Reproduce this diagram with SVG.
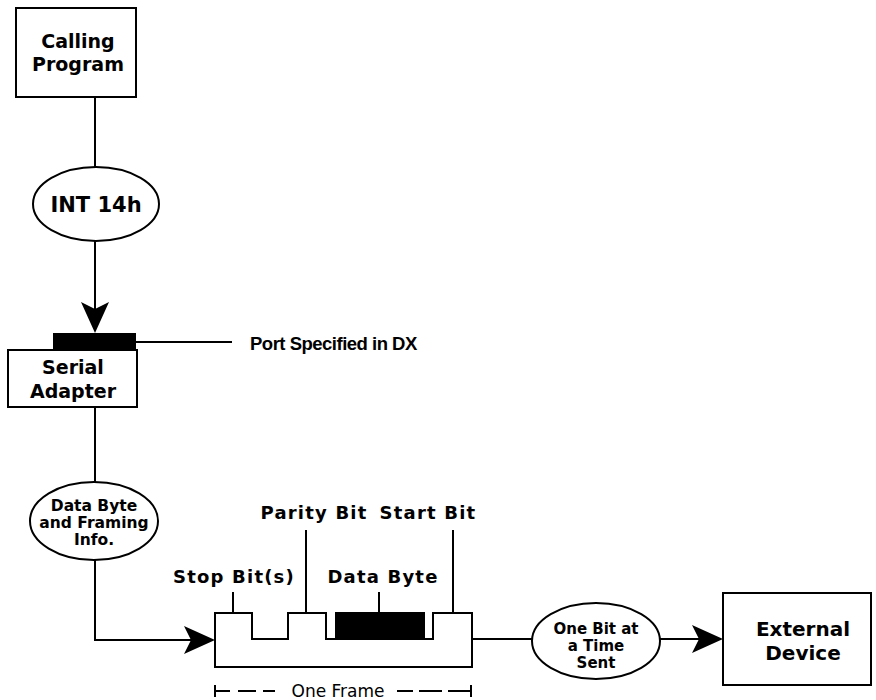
<svg xmlns="http://www.w3.org/2000/svg" width="876" height="700" viewBox="0 0 876 700">
<style>
.box{fill:#fff;stroke:#000;stroke-width:2}
.ln{fill:none;stroke:#000;stroke-width:2}
.t{font-family:"DejaVu Sans","Liberation Sans",sans-serif;font-weight:bold;fill:#000;text-anchor:middle}
.big{font-size:19px}
.lbl{font-size:18px;letter-spacing:1.2px}
.sm{font-size:15.5px}
.frame{font-family:"DejaVu Sans","Liberation Sans",sans-serif;font-size:17px;fill:#000;text-anchor:middle}
</style>
<defs>
<path id="arrR" d="M0,0 L-31,-14 L-24,0 L-31,14 Z" fill="#000"/>
</defs>
<rect width="876" height="700" fill="#fff"/>
<g id="connectors">
<line class="ln" x1="95" y1="97" x2="95" y2="167"/>
<line class="ln" x1="95" y1="241" x2="95" y2="310"/>
<path d="M95,333 L81,302 L95,309 L109,302 Z" fill="#000"/>
<line class="ln" x1="136" y1="342" x2="232" y2="342"/>
<line class="ln" x1="95" y1="407" x2="95" y2="482"/>
<polyline class="ln" points="95,560 95,640 195,640"/>
<use href="#arrR" x="215" y="640"/>
<line class="ln" x1="472" y1="639" x2="532" y2="639"/>
<line class="ln" x1="660" y1="639" x2="705" y2="639"/>
<use href="#arrR" x="723" y="639"/>
</g>
<g id="calling-program">
<rect class="box" x="16" y="8" width="120" height="89"/>
<text class="t big" x="78" y="48">Calling</text>
<text class="t big" x="78" y="71">Program</text>
</g>
<g id="int14h">
<ellipse class="box" cx="96" cy="204" rx="63" ry="37"/>
<text class="t" font-size="21" x="96" y="212">INT 14h</text>
</g>
<g id="serial-adapter">
<rect x="53" y="333" width="83" height="17" fill="#000"/>
<rect class="box" x="8" y="350" width="129" height="57"/>
<text class="t big" x="73" y="374">Serial</text>
<text class="t big" x="73" y="398">Adapter</text>
</g>
<g id="port-label">
<text class="t" font-size="18.5" style="font-family:'Liberation Sans',Arial,sans-serif;text-anchor:start;letter-spacing:-0.5px" x="250" y="350">Port Specified in DX</text>
</g>
<g id="data-byte-framing">
<ellipse class="box" cx="94" cy="521" rx="64" ry="39"/>
<text class="t sm" x="94" y="511">Data Byte</text>
<text class="t sm" x="94" y="528">and Framing</text>
<text class="t sm" x="94" y="545">Info.</text>
</g>
<g id="frame">
<path class="ln" d="M215,613 H252 V639 H288 V613 H326 V639 H433 V613 H472 V667 H215 Z"/>
<rect x="335" y="612" width="90" height="27" fill="#000"/>
<line class="ln" x1="233" y1="592" x2="233" y2="613"/>
<line class="ln" x1="306" y1="530" x2="306" y2="613"/>
<line class="ln" x1="379" y1="592" x2="379" y2="612"/>
<line class="ln" x1="453" y1="530" x2="453" y2="613"/>
<text class="t lbl" x="234" y="583">Stop Bit(s)</text>
<text class="t lbl" x="383" y="583">Data Byte</text>
<text class="t lbl" x="314" y="519">Parity Bit</text>
<text class="t lbl" x="428" y="519">Start Bit</text>
<g class="ln" stroke-width="1.5">
<line x1="215" y1="685" x2="215" y2="697"/>
<line x1="215" y1="691" x2="230" y2="691"/>
<line x1="238" y1="691" x2="256" y2="691"/>
<line x1="263" y1="691" x2="275" y2="691"/>
<line x1="397" y1="691" x2="413" y2="691"/>
<line x1="419" y1="691" x2="442" y2="691"/>
<line x1="448" y1="691" x2="471" y2="691"/>
<line x1="471" y1="685" x2="471" y2="697"/>
</g>
<text class="frame" x="338" y="697">One Frame</text>
</g>
<g id="one-bit">
<ellipse class="box" cx="596" cy="641" rx="64" ry="38"/>
<text class="t" font-size="15" x="596" y="634">One Bit at</text>
<text class="t" font-size="15" x="596" y="651">a Time</text>
<text class="t" font-size="15" x="596" y="668">Sent</text>
</g>
<g id="external-device">
<rect class="box" x="723" y="593" width="148" height="92"/>
<text class="t" font-size="20" x="803" y="636">External</text>
<text class="t" font-size="20" x="803" y="660">Device</text>
</g>
</svg>
